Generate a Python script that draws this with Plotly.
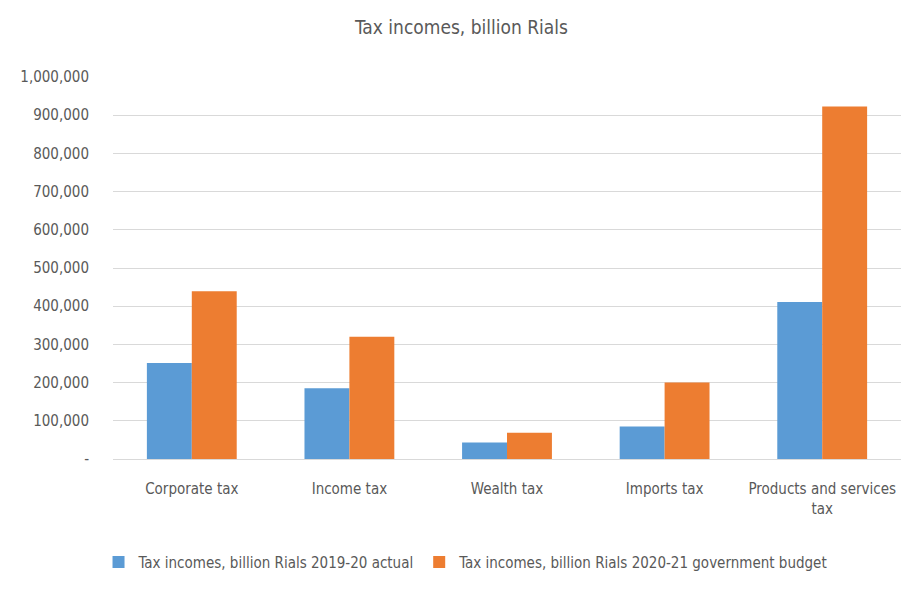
import plotly.graph_objects as go

categories = ["Corporate tax", "Income tax", "Wealth tax", "Imports tax", "Products and services<br>tax"]
actual_2019_20 = [251000, 185000, 43000, 85000, 411000]
budget_2020_21 = [439000, 320000, 69000, 200000, 923000]
series_names = ["Tax incomes, billion Rials 2019-20 actual",
                "Tax incomes, billion Rials 2020-21 government budget"]
tick_values = [0, 100000, 200000, 300000, 400000, 500000, 600000, 700000, 800000, 900000, 1000000]
tick_labels = ["-", "100,000", "200,000", "300,000", "400,000", "500,000",
               "600,000", "700,000", "800,000", "900,000", "1,000,000"]

FONT = "Liberation Sans Narrow, DejaVu Sans Condensed, Arial Narrow, sans-serif"
GREY = "#595959"

fig = go.Figure()
fig.add_trace(go.Bar(x=categories, y=actual_2019_20, name=series_names[0],
                     marker=dict(color="#5B9BD5", line=dict(width=0))))
fig.add_trace(go.Bar(x=categories, y=budget_2020_21, name=series_names[1],
                     marker=dict(color="#ED7D31", line=dict(width=0))))

fig.update_layout(
    width=907, height=583,
    paper_bgcolor="white", plot_bgcolor="white",
    font=dict(family=FONT, color=GREY, size=15),
    title=dict(text="Tax incomes, billion Rials", x=0.5, xanchor="center", y=0.966, yanchor="middle",
               font=dict(family=FONT, size=19, color=GREY)),
    barmode="group", bargap=0.43, bargroupgap=0,
    margin=dict(l=103, r=14, t=69, b=127),
    xaxis=dict(showline=True, linecolor="#D9D9D9", linewidth=1, ticks="outside", ticklen=16,
               tickcolor="rgba(0,0,0,0)", tickfont=dict(size=15, color=GREY), showgrid=False),
    yaxis=dict(range=[0, 1000000], tickvals=tick_values, ticktext=tick_labels,
               showgrid=True, gridcolor="#D9D9D9", gridwidth=1, zeroline=False,
               ticks="outside", ticklen=20, tickcolor="rgba(0,0,0,0)",
               tickfont=dict(size=15, color=GREY)),
    legend=dict(orientation="h", x=0.448, xanchor="center", y=-0.27, yanchor="middle",
                font=dict(size=15, color=GREY), itemwidth=30, traceorder="normal"),
)

fig.write_html("out.html")
